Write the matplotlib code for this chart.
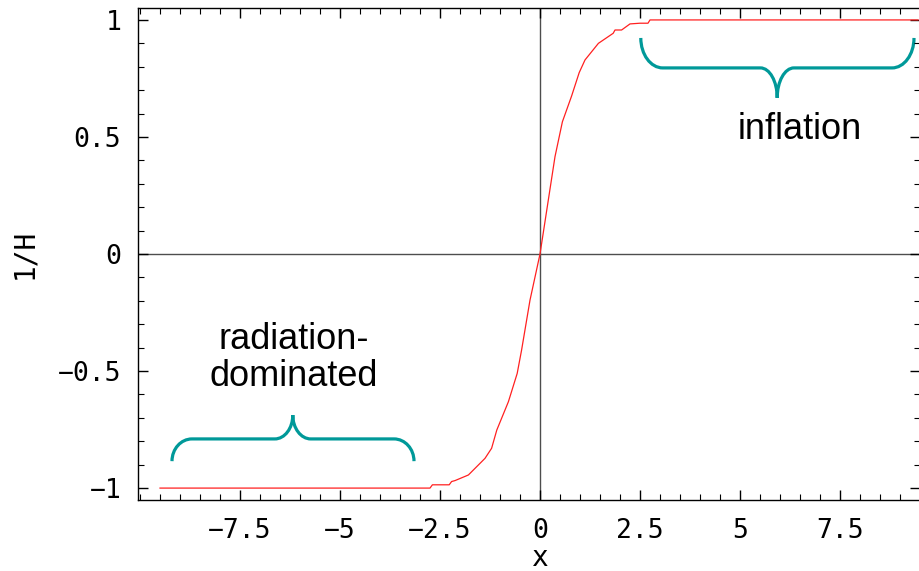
import numpy as np
import matplotlib
matplotlib.use('Agg')
import matplotlib.pyplot as plt
from matplotlib.path import Path
from matplotlib.patches import PathPatch
from matplotlib.ticker import MultipleLocator

# curve
x_vals = [-9.5, -2.75, -2.69, -2.27, -2.21, -2.125, -1.79, -1.375, -1.21, -1.08,
          -0.79, -0.57, -0.46, -0.25, 0.0, 0.375, 0.56, 0.79, 0.98, 1.125, 1.46,
          1.83, 1.875, 2.04, 2.25, 2.5, 2.7, 2.75, 9.45]
inv_h = [-1.0, -1.0, -0.986, -0.986, -0.972, -0.968, -0.944, -0.873, -0.83, -0.752,
         -0.631, -0.51, -0.41, -0.197, 0.0, 0.416, 0.565, 0.675, 0.775, 0.829, 0.90,
         0.943, 0.957, 0.957, 0.983, 0.986, 0.986, 1.0, 1.0]

x_ticks = [-7.5, -5, -2.5, 0, 2.5, 5, 7.5]
x_tick_labels = ['\u22127.5', '\u22125', '\u22122.5', '0', '2.5', '5', '7.5']
y_ticks = [-1, -0.5, 0, 0.5, 1]
y_tick_labels = ['\u22121', '\u22120.5', '0', '0.5', '1']

teal = '#009999'
mono = 'DejaVu Sans Mono'


def brace(ax, x1, x2, xtip, y_end, y_flat, y_tip, dx_end, dx_tip):
    k = 0.552
    h1 = y_flat - y_end
    h2 = y_tip - y_flat
    verts = [
        (x1, y_end),
        (x1, y_end + k * h1), (x1 + dx_end * (1 - k), y_flat), (x1 + dx_end, y_flat),
        (xtip - dx_tip, y_flat),
        (xtip - dx_tip * (1 - k), y_flat), (xtip, y_tip - k * h2), (xtip, y_tip),
        (xtip, y_tip - k * h2), (xtip + dx_tip * (1 - k), y_flat), (xtip + dx_tip, y_flat),
        (x2 - dx_end, y_flat),
        (x2 - dx_end * (1 - k), y_flat), (x2, y_end + k * h1), (x2, y_end),
    ]
    codes = [Path.MOVETO,
             Path.CURVE4, Path.CURVE4, Path.CURVE4,
             Path.LINETO,
             Path.CURVE4, Path.CURVE4, Path.CURVE4,
             Path.CURVE4, Path.CURVE4, Path.CURVE4,
             Path.LINETO,
             Path.CURVE4, Path.CURVE4, Path.CURVE4]
    ax.add_patch(PathPatch(Path(verts, codes), fill=False, edgecolor=teal,
                           lw=2.3, capstyle='butt'))


fig = plt.figure(figsize=(9.2, 5.71), dpi=100)
ax = fig.add_axes([0.15, 0.1243, 0.85, 0.8617])

ax.axhline(0, color='0.3', lw=1.0, zorder=1)
ax.axvline(0, color='0.3', lw=1.0, zorder=1)
ax.plot(x_vals, inv_h, color='#ff2020', lw=0.9, zorder=3)

brace(ax, -9.2, -3.15, -6.18, -0.885, -0.79, -0.688, 0.5, 0.45)
brace(ax, 2.52, 9.35, 5.93, 0.923, 0.795, 0.667, 0.55, 0.42)

ax.text(6.5, 0.53, 'inflation', fontsize=26, family='Liberation Sans',
        ha='center', va='center')
ax.text(-6.15, -0.444, 'radiation-\ndominated', fontsize=26, family='Liberation Sans',
        ha='center', va='center', multialignment='center', linespacing=1.05)

ax.set_xlim(-10.05, 9.5)
ax.set_ylim(-1.051, 1.051)

ax.set_xticks(x_ticks)
ax.set_xticklabels(x_tick_labels, family=mono, fontsize=19)
ax.set_yticks(y_ticks)
ax.set_yticklabels(y_tick_labels, family=mono, fontsize=19)
ax.xaxis.set_minor_locator(MultipleLocator(0.5))
ax.yaxis.set_minor_locator(MultipleLocator(0.1))
ax.tick_params(which='both', direction='in', top=True, right=True, color='black')
ax.tick_params(which='major', length=7, width=1.0)
ax.tick_params(axis='x', which='major', pad=13)
ax.tick_params(axis='y', which='major', pad=12)
ax.tick_params(which='minor', length=4, width=0.8)

ax.set_xlabel('x', family=mono, fontsize=20, va='center')
ax.xaxis.set_label_coords(0.514, -0.118)
ax.set_ylabel('1/H', family=mono, fontsize=20, va='center')
ax.yaxis.set_label_coords(-0.145, 0.5)

for s in ax.spines.values():
    s.set_linewidth(1.0)
    s.set_color('black')

fig.savefig('out.png', dpi=100)
